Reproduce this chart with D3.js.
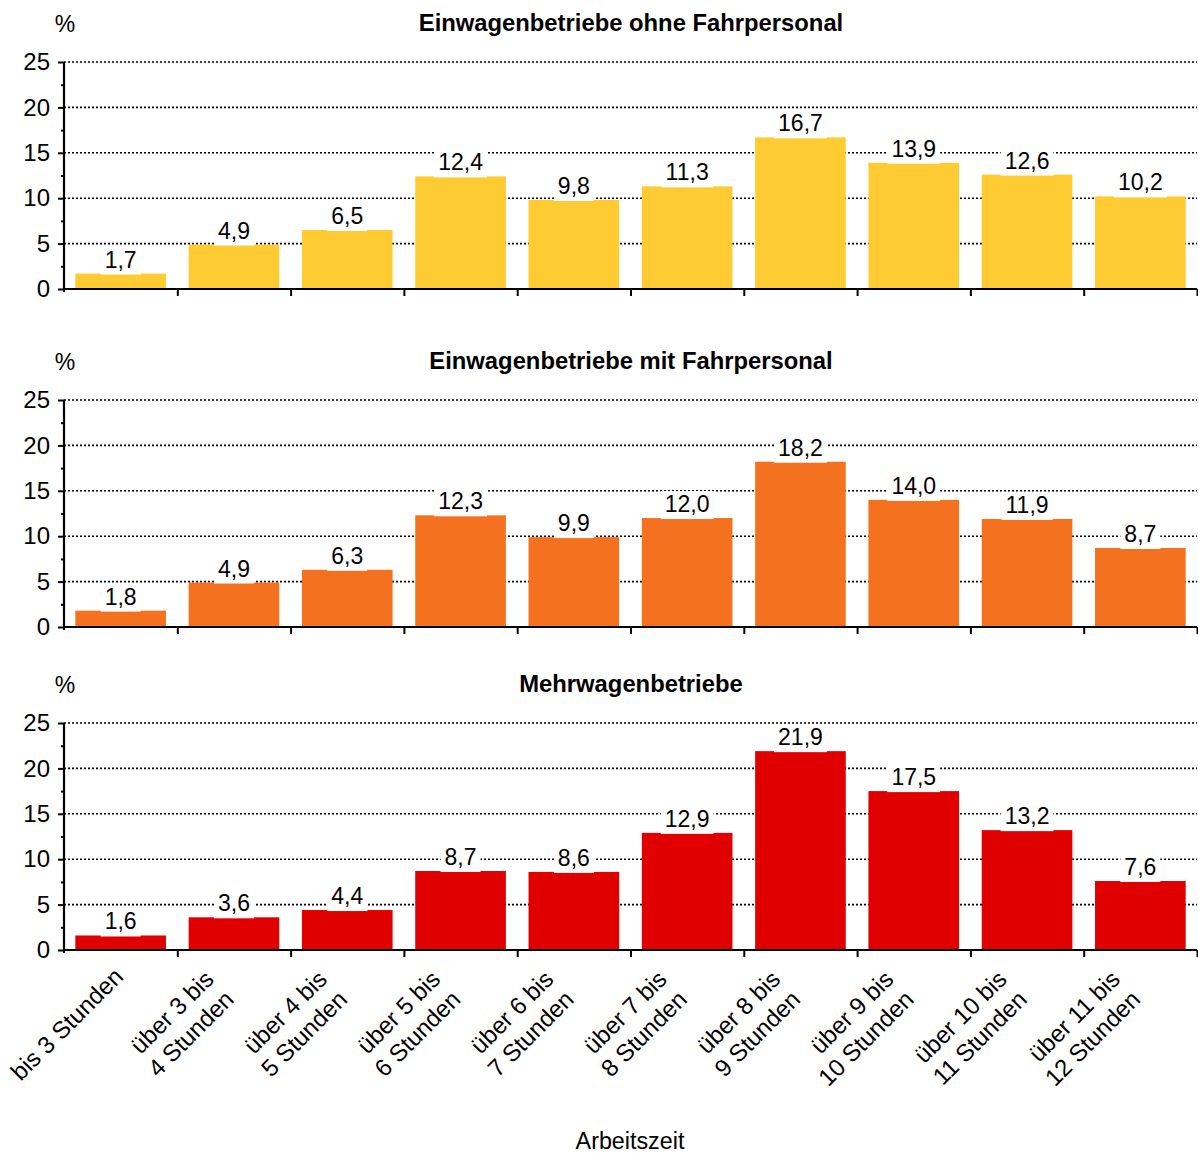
<!DOCTYPE html>
<html>
<head>
<meta charset="utf-8">
<script src="https://cdn.jsdelivr.net/npm/d3@7"></script>
<style>
  body { margin: 0; background: #fff; }
  text { font-family: "Liberation Sans", Arial, sans-serif; fill: #000; }
</style>
</head>
<body>
<svg id="chart" width="1198" height="1153"></svg>
<script>
var categories = ["bis 3 Stunden", "über 3 bis\n4 Stunden", "über 4 bis\n5 Stunden", "über 5 bis\n6 Stunden",
  "über 6 bis\n7 Stunden", "über 7 bis\n8 Stunden", "über 8 bis\n9 Stunden", "über 9 bis\n10 Stunden",
  "über 10 bis\n11 Stunden", "über 11 bis\n12 Stunden"];
var titles = ["Einwagenbetriebe ohne Fahrpersonal", "Einwagenbetriebe mit Fahrpersonal", "Mehrwagenbetriebe"];
var ohneFahrpersonal = [1.7, 4.9, 6.5, 12.4, 9.8, 11.3, 16.7, 13.9, 12.6, 10.2];
var mitFahrpersonal = [1.8, 4.9, 6.3, 12.3, 9.9, 12.0, 18.2, 14.0, 11.9, 8.7];
var mehrwagen = [1.6, 3.6, 4.4, 8.7, 8.6, 12.9, 21.9, 17.5, 13.2, 7.6];
var yTicks = [0, 5, 10, 15, 20, 25];
var xTitle = "Arbeitszeit";

var series = [ohneFahrpersonal, mitFahrpersonal, mehrwagen];
var colors = ["#FFCB33", "#F4721F", "#E00000"];
var panelBottom = [289, 627, 950];
var panelH = 227;
var left = 64, right = 1197;

var svg = d3.select("#chart");
var fmt = function(v){ return d3.format(".1f")(v).replace(".", ","); };

var x = d3.scaleBand().domain(d3.range(categories.length)).range([left, right])
  .paddingInner(0.2).paddingOuter(0.1);
var xEdge = d3.scaleLinear().domain([0, categories.length]).range([left, right]);

series.map(function(values, p){
  var y0 = panelBottom[p];
  var y = d3.scaleLinear().domain([0, 25]).range([y0, y0 - panelH]);
  var g = svg.append("g");

  // dotted gridlines
  g.append("g").selectAll("line").data(yTicks.filter(function(d){return d>0;})).enter()
    .append("line")
    .attr("x1", left).attr("x2", right)
    .attr("y1", function(d){return y(d);}).attr("y2", function(d){return y(d);})
    .attr("stroke", "#000").attr("stroke-width", 1.6).attr("stroke-dasharray", "2,2");

  // bars
  g.append("g").selectAll("rect").data(values).enter()
    .append("rect")
    .attr("x", function(d,i){return x(i);})
    .attr("y", function(d){return y(d);})
    .attr("width", x.bandwidth())
    .attr("height", function(d){return y0 - y(d);})
    .attr("fill", colors[p]);

  // value labels with white box
  var lab = g.append("g").selectAll("g").data(values).enter().append("g")
    .attr("transform", function(d,i){return "translate(" + (x(i) + x.bandwidth()/2) + "," + (y(d) - 6) + ")";});
  lab.append("text")
    .attr("text-anchor", "middle")
    .style("font-size", "23px")
    .text(function(d){return fmt(d);})
    .each(function(){
      var b = this.getBBox();
      d3.select(this.parentNode).insert("rect", "text")
        .attr("x", b.x - 4).attr("y", -21).attr("width", b.width + 8).attr("height", 28)
        .attr("fill", "#fff");
    });

  // y axis
  var yAxis = g.append("g").attr("transform", "translate(" + left + ",0)")
    .call(d3.axisLeft(y).tickValues(yTicks).tickSize(6).tickPadding(8));
  yAxis.select(".domain").attr("stroke-width", 2.2).attr("d", "M0," + (y0 + 3) + "V" + (y0 - panelH));
  yAxis.selectAll(".tick line").attr("stroke-width", 2);
  yAxis.selectAll(".tick text").style("font-size", "24px").style("font-family", "Liberation Sans, Arial, sans-serif");

  var yMinor = g.append("g").attr("transform", "translate(" + left + ",0)")
    .call(d3.axisLeft(y).tickValues([2.5, 7.5, 12.5, 17.5, 22.5]).tickSize(3).tickFormat(""));
  yMinor.select(".domain").remove();
  yMinor.selectAll(".tick line").attr("stroke-width", 2);

  // x axis with ticks on the category edges
  var xAxis = g.append("g").attr("transform", "translate(0," + y0 + ")")
    .call(d3.axisBottom(xEdge).tickValues(d3.range(1, categories.length + 1)).tickSize(7).tickFormat(""));
  xAxis.select(".domain").attr("stroke-width", 2.2).attr("d", "M" + left + ",0H" + right);
  xAxis.selectAll(".tick line").attr("stroke-width", 2);

  // titles
  g.append("text").attr("x", 631).attr("y", y0 - panelH - 31)
    .attr("text-anchor", "middle").style("font-size", "23.8px").style("font-weight", "bold")
    .text(titles[p]);
  g.append("text").attr("x", 65).attr("y", y0 - panelH - 30)
    .attr("text-anchor", "middle").style("font-size", "23px").text("%");
});

// rotated category labels under the last panel
var yLast = panelBottom[2];
var lh = 28.5, shiftBack = 18;
var cat = svg.append("g").selectAll("g").data(categories).enter().append("g")
  .attr("transform", function(d,i){
    return "translate(" + (x(i) + x.bandwidth()/2 + 4) + "," + (yLast + 28) + ") rotate(-45)";
  });
cat.each(function(d){
  var lines = d.split("\n");
  var n = lines.length;
  d3.select(this).selectAll("text").data(lines).enter().append("text")
    .attr("text-anchor", "end")
    .attr("x", -(n - 1) * shiftBack)
    .attr("y", function(l,k){return (k - (n - 1) / 2) * lh;})
    .style("font-size", "24px")
    .text(function(l){return l;});
});

svg.append("text").attr("x", 630).attr("y", 1149).attr("text-anchor", "middle")
  .style("font-size", "23.3px").text(xTitle);
</script>
</body>
</html>
